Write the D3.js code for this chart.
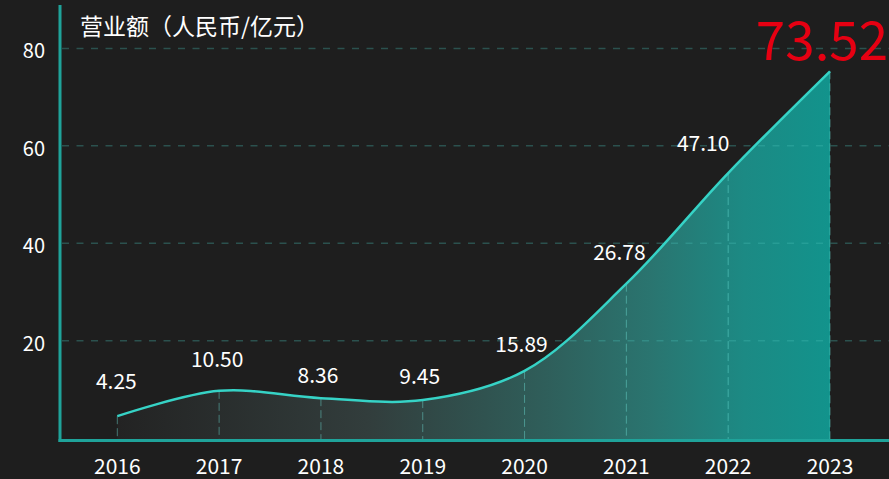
<!DOCTYPE html>
<html>
<head>
<meta charset="utf-8">
<script src="https://cdn.jsdelivr.net/npm/d3@7"></script>
<style>
  html, body { margin: 0; padding: 0; background: #1e1e1e; }
  svg { display: block; font-family: "Microsoft YaHei", "Noto Sans CJK SC", sans-serif; }
</style>
</head>
<body>
<div id="chart"></div>
<script>
// Data
const years = ['2016', '2017', '2018', '2019', '2020', '2021', '2022', '2023'];
const curveValues = [4.5, 9.7, 8.2, 7.8, 13.8, 31.7, 54.4, 75.3];
const labelTexts = ['4.25', '10.50', '8.36', '9.45', '15.89', '26.78', '47.10', '73.52'];
const yTicks = [20, 40, 60, 80];
const title = '营业额（人民币/亿元）';

// Label nudges in px (dx, dy from the point on the curve)
const labelNudge = [[-1, -27], [-2, -24], [-3, -15], [-3, -16], [-3, -19], [-7, -24], [-25, -22], [-8, -11]];

const width = 889;
const height = 479;
const axisX = 60;
const axisY = 440.5;

const svg = d3.select('#chart')
  .append('svg')
  .attr('width', width)
  .attr('height', height);

svg.append('rect')
  .attr('width', width)
  .attr('height', height)
  .attr('fill', '#1e1e1e');

// Scales
const x = d3.scalePoint()
  .domain(years)
  .range([117.3, 830]);

const y = d3.scaleLinear()
  .domain([0, 80])
  .range([438.1, 48.4]);

// Horizontal gradient for the area
const defs = svg.append('defs');
const grad = defs.append('linearGradient')
  .attr('id', 'areaGrad')
  .attr('gradientUnits', 'userSpaceOnUse')
  .attr('x1', x(years[0])).attr('x2', x(years[years.length - 1]))
  .attr('y1', 0).attr('y2', 0);
grad.append('stop').attr('offset', 0).attr('stop-color', '#232323');
grad.append('stop').attr('offset', 0.35).attr('stop-color', '#323d3c');
grad.append('stop').attr('offset', 0.6).attr('stop-color', '#2f5e5a');
grad.append('stop').attr('offset', 0.75).attr('stop-color', '#2a7570');
grad.append('stop').attr('offset', 0.88).attr('stop-color', '#1c8a84');
grad.append('stop').attr('offset', 1).attr('stop-color', '#12938c');

const pts = years.map((yr, i) => ({ year: yr, value: curveValues[i], label: labelTexts[i] }));

const curve = d3.curveCatmullRom.alpha(0.5);

// Area under the curve
svg.append('path')
  .datum(pts)
  .attr('fill', 'url(#areaGrad)')
  .attr('d', d3.area()
    .x(d => x(d.year))
    .y0(axisY)
    .y1(d => y(d.value))
    .curve(curve));

// Horizontal dashed gridlines
svg.append('g')
  .selectAll('line')
  .data(yTicks)
  .enter()
  .append('line')
  .attr('x1', axisX + 2)
  .attr('x2', width)
  .attr('y1', d => y(d))
  .attr('y2', d => y(d))
  .attr('stroke', 'rgba(70,190,180,0.32)')
  .attr('stroke-width', 1.5)
  .attr('stroke-dasharray', '7 7.5');

// Vertical dashed drop lines
svg.append('g')
  .selectAll('line')
  .data(pts)
  .enter()
  .append('line')
  .attr('x1', d => x(d.year))
  .attr('x2', d => x(d.year))
  .attr('y1', d => y(d.value))
  .attr('y2', axisY)
  .attr('stroke', 'rgba(110,225,215,0.45)')
  .attr('stroke-width', 1)
  .attr('stroke-dasharray', '8 4');

// Curve
svg.append('path')
  .datum(pts)
  .attr('fill', 'none')
  .attr('stroke', '#36d3c6')
  .attr('stroke-width', 2.5)
  .attr('d', d3.line()
    .x(d => x(d.year))
    .y(d => y(d.value))
    .curve(curve));

// Axis lines
svg.append('line')
  .attr('x1', axisX).attr('x2', axisX)
  .attr('y1', 5).attr('y2', axisY + 1.5)
  .attr('stroke', '#1fa39a')
  .attr('stroke-width', 3);

svg.append('line')
  .attr('x1', axisX - 1.5).attr('x2', width)
  .attr('y1', axisY).attr('y2', axisY)
  .attr('stroke', '#1fa39a')
  .attr('stroke-width', 3);

// Y tick labels
svg.append('g')
  .selectAll('text')
  .data(yTicks)
  .enter()
  .append('text')
  .attr('x', 45)
  .attr('y', d => y(d) + 10)
  .attr('text-anchor', 'end')
  .attr('fill', '#ffffff')
  .attr('font-size', '20px')
  .text(d => d);

// X tick labels
svg.append('g')
  .selectAll('text')
  .data(years)
  .enter()
  .append('text')
  .attr('x', d => x(d))
  .attr('y', 474)
  .attr('text-anchor', 'middle')
  .attr('fill', '#ffffff')
  .attr('font-size', '21px')
  .text(d => d);

// Value labels (last one is the big red highlight)
svg.append('g')
  .selectAll('text')
  .data(pts)
  .enter()
  .append('text')
  .attr('x', (d, i) => x(d.year) + labelNudge[i][0])
  .attr('y', (d, i) => y(d.value) + labelNudge[i][1])
  .attr('text-anchor', 'middle')
  .attr('fill', (d, i) => i === pts.length - 1 ? '#e60012' : '#ffffff')
  .attr('font-size', (d, i) => i === pts.length - 1 ? '53px' : '21px')
  .text(d => d.label);

// Title
svg.append('text')
  .attr('x', 80)
  .attr('y', 35)
  .attr('fill', '#ffffff')
  .attr('font-size', '23px')
  .text(title);
</script>
</body>
</html>
